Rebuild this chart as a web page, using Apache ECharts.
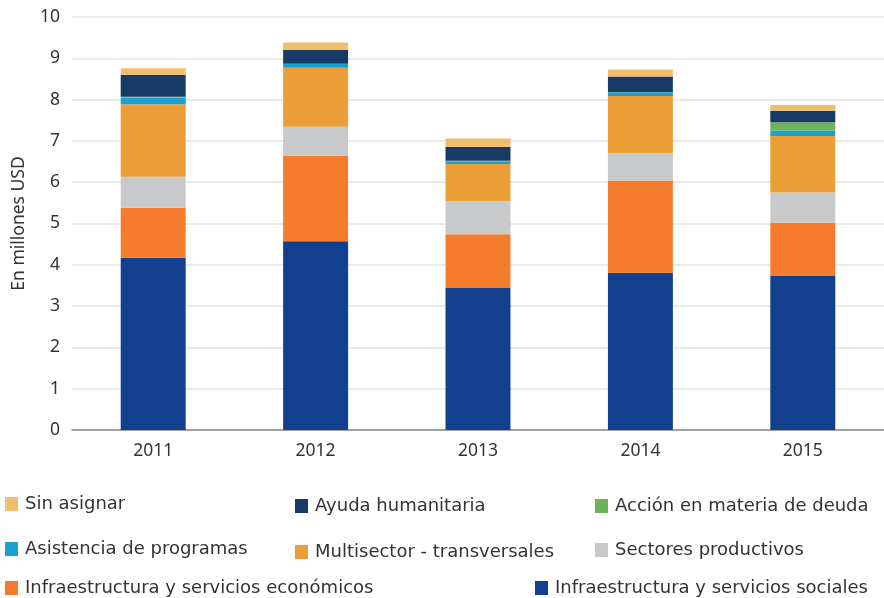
<!DOCTYPE html>
<html>
<head>
<meta charset="utf-8">
<script src="https://cdn.jsdelivr.net/npm/echarts@6/dist/echarts.min.js"></script>
<style>
  html, body { margin: 0; padding: 0; background: #fff; }
  #chart { width: 884px; height: 598px; }
</style>
</head>
<body>
<div id="chart"></div>
<script>
// años
var years = ["2011", "2012", "2013", "2014", "2015"];

// valores en millones USD (de abajo hacia arriba en la pila)
var infraSociales = [4.17, 4.57, 3.45, 3.81, 3.74];
var infraEconomicos = [1.21, 2.07, 1.29, 2.23, 1.28];
var sectoresProductivos = [0.75, 0.70, 0.80, 0.66, 0.73];
var multisector = [1.76, 1.43, 0.90, 1.39, 1.37];
var asistenciaProgramas = [0.16, 0.09, 0.07, 0.08, 0.13];
var accionDeuda = [0.02, 0.01, 0.01, 0.01, 0.20];
var ayudaHumanitaria = [0.53, 0.34, 0.33, 0.38, 0.28];
var sinAsignar = [0.16, 0.17, 0.21, 0.17, 0.14];

var yTicks = [0, 1, 2, 3, 4, 5, 6, 7, 8, 9, 10];

var seriesDefs = [
  { name: "Infraestructura y servicios sociales", data: infraSociales, color: "#123F8E", lx: 535, ly: 579 },
  { name: "Infraestructura y servicios económicos", data: infraEconomicos, color: "#F47C2C", lx: 5, ly: 579 },
  { name: "Sectores productivos", data: sectoresProductivos, color: "#C8C9CB", lx: 595, ly: 541 },
  { name: "Multisector - transversales", data: multisector, color: "#EB9E37", lx: 295, ly: 543 },
  { name: "Asistencia de programas", data: asistenciaProgramas, color: "#17A2CF", lx: 5, ly: 540 },
  { name: "Acción en materia de deuda", data: accionDeuda, color: "#6DB35A", lx: 595, ly: 497 },
  { name: "Ayuda humanitaria", data: ayudaHumanitaria, color: "#173A67", lx: 295, ly: 497 },
  { name: "Sin asignar", data: sinAsignar, color: "#F0BE6C", lx: 5, ly: 495 }
];

var font = "'Noto Sans', sans-serif";
var legendFont = "'DejaVu Sans', sans-serif";

var chart = echarts.init(document.getElementById("chart"));
var option = {
  animation: false,
  textStyle: { fontFamily: font },
  grid: { left: 72, right: 0, top: 17, bottom: 168, containLabel: false, outerBoundsMode: "none" },
  legend: seriesDefs.map(function (s) {
    return {
      data: [s.name],
      left: s.lx,
      top: s.ly,
      itemWidth: 13,
      itemHeight: 14,
      itemGap: 0,
      padding: 0,
      icon: "rect",
      selectedMode: false,
      textStyle: { fontSize: 18, color: "#333", fontFamily: legendFont, padding: [0, 0, 0, 2] }
    };
  }),
  xAxis: {
    type: "category",
    data: years,
    axisLine: { lineStyle: { color: "#8a8a8a", width: 1.5 } },
    axisTick: { show: false },
    axisLabel: { fontSize: 17.5, color: "#333", margin: 12 }
  },
  yAxis: {
    type: "value",
    min: 0,
    max: 10,
    interval: 1,
    name: "En millones USD",
    nameLocation: "middle",
    nameGap: 44,
    nameTextStyle: { fontSize: 17.5, color: "#333" },
    axisLine: { show: false },
    axisTick: { show: false },
    axisLabel: {
      fontSize: 17.5, color: "#333", margin: 12,
      formatter: function (v) { return yTicks.indexOf(v) >= 0 ? String(v) : ""; }
    },
    splitLine: { lineStyle: { color: "#e3e3e3", width: 1.5 } }
  },
  series: seriesDefs.map(function (s) {
    return {
      name: s.name,
      type: "bar",
      stack: "total",
      barWidth: "40%",
      data: s.data,
      itemStyle: { color: s.color }
    };
  })
};
chart.setOption(option);
</script>
</body>
</html>
